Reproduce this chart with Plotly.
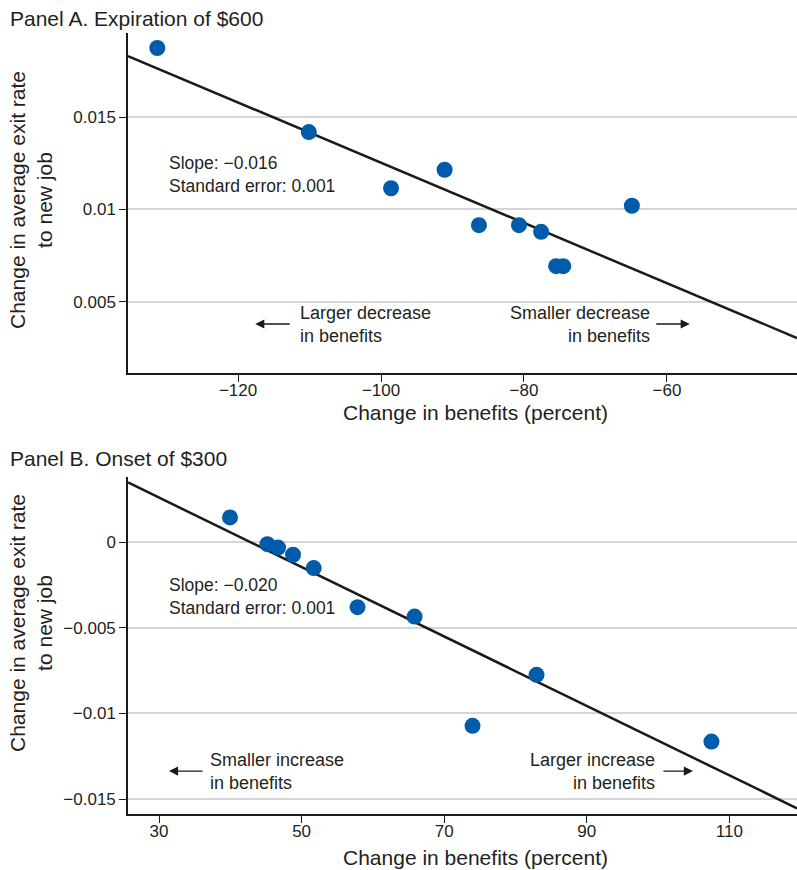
import plotly.graph_objects as go
from plotly.subplots import make_subplots
import numpy as np

# ---- Panel A data: Expiration of $600 ----
a_benefit_change = [-131.3, -110.1, -98.6, -91.1, -86.3, -80.7, -77.6, -75.5, -74.5, -64.9]
a_exit_change = [0.01874, 0.01419, 0.01115, 0.01215, 0.00915, 0.00915, 0.00879, 0.00693, 0.00693, 0.0102]
a_fit_intercept = -0.00377
a_fit_slope = -0.000163
a_xrange = [-135.4, -41.8]
a_yrange = [0.00115, 0.01955]
a_xticks = [-120, -100, -80, -60]
a_xticktext = ["\u2212120", "\u2212100", "\u221280", "\u221260"]
a_yticks = [0.005, 0.01, 0.015]
a_yticktext = ["0.005", "0.01", "0.015"]

# ---- Panel B data: Onset of $300 ----
b_benefit_change = [39.96, 45.2, 46.7, 48.8, 51.7, 57.85, 65.85, 82.96, 73.98, 107.5]
b_exit_change = [0.00144, -0.00012, -0.00032, -0.00074, -0.00152, -0.0038, -0.00435, -0.00775, -0.01073, -0.01165]
b_fit_intercept = 0.00868
b_fit_slope = -0.0002027
b_xrange = [25.65, 119.5]
b_yrange = [-0.015876, 0.0038]
b_xticks = [30, 50, 70, 90, 110]
b_xticktext = ["30", "50", "70", "90", "110"]
b_yticks = [-0.015, -0.01, -0.005, 0]
b_yticktext = ["\u22120.015", "\u22120.01", "\u22120.005", "0"]

FONT = "Liberation Sans, Arial, Helvetica, sans-serif"
TXT = "#231f20"
BLUE = "#005BAA"

W, H = 797, 870
L = 128
PW = W - L

fig = make_subplots(rows=2, cols=1)

def fit_line(xr, b0, b1):
    xs = np.array(xr)
    return xs, b0 + b1 * xs

for row, xs_, ys_, b0, b1, xr in [
    (1, a_benefit_change, a_exit_change, a_fit_intercept, a_fit_slope, a_xrange),
    (2, b_benefit_change, b_exit_change, b_fit_intercept, b_fit_slope, b_xrange),
]:
    lx, ly = fit_line(xr, b0, b1)
    fig.add_trace(go.Scatter(x=lx, y=ly, mode="lines",
                             line=dict(color="#1a1a1a", width=2.5),
                             showlegend=False, hoverinfo="skip", cliponaxis=False), row=row, col=1)
    fig.add_trace(go.Scatter(x=xs_, y=ys_, mode="markers",
                             marker=dict(color=BLUE, size=16),
                             showlegend=False, cliponaxis=False), row=row, col=1)

def px2paper_y(p):
    return 1 - p / H

def px2paper_x(p):
    return (p - L) / PW

axis_common = dict(showline=True, linecolor="#1a1a1a", linewidth=1.5,
                   ticks="outside", ticklen=7, tickwidth=1.2, tickcolor="#1a1a1a",
                   tickfont=dict(family=FONT, size=17, color=TXT), zeroline=False,
                   automargin=False)

fig.update_xaxes(range=a_xrange, tickvals=a_xticks, ticktext=a_xticktext,
                 showgrid=False, domain=[0, 1], ticklabelstandoff=-6,
                 row=1, col=1, **axis_common)
fig.update_yaxes(range=a_yrange, tickvals=a_yticks, ticktext=a_yticktext,
                 showgrid=True, gridcolor="#d6d6d6", gridwidth=1.5,
                 domain=[px2paper_y(373), px2paper_y(33)], row=1, col=1, **axis_common)
fig.update_xaxes(range=b_xrange, tickvals=b_xticks, ticktext=b_xticktext,
                 showgrid=False, domain=[0, 1], ticklabelstandoff=-6,
                 row=2, col=1, **axis_common)
fig.update_yaxes(range=b_yrange, tickvals=b_yticks, ticktext=b_yticktext,
                 showgrid=True, gridcolor="#d6d6d6", gridwidth=1.5,
                 domain=[px2paper_y(814), px2paper_y(477)], row=2, col=1, **axis_common)

ann = []
tfont = dict(family=FONT, size=21, color=TXT)
afont = dict(family=FONT, size=17.5, color=TXT)
dfont = dict(family=FONT, size=18, color=TXT)

# panel titles
ann.append(dict(text="Panel A. Expiration of $600", xref="paper", yref="paper",
                x=px2paper_x(8), y=px2paper_y(18), xanchor="left", yanchor="middle",
                showarrow=False, font=tfont))
ann.append(dict(text="Panel B. Onset of $300", xref="paper", yref="paper",
                x=px2paper_x(8), y=px2paper_y(458), xanchor="left", yanchor="middle",
                showarrow=False, font=tfont))
# x axis titles
for yp in (412, 857):
    ann.append(dict(text="Change in benefits (percent)", xref="paper", yref="paper",
                    x=px2paper_x(476), y=px2paper_y(yp), xanchor="center", yanchor="middle",
                    showarrow=False, font=tfont))
# y axis titles
for yp in (200, 623):
    ann.append(dict(text="Change in average exit rate<br>to new job", xref="paper", yref="paper",
                    x=px2paper_x(31), y=px2paper_y(yp), xanchor="center", yanchor="middle",
                    textangle=-90, showarrow=False, font=tfont))

# slope annotations
ann.append(dict(text="Slope: \u22120.016<br>Standard error: 0.001", xref="x", yref="y",
                x=-129.9, y=0.01191, xanchor="left", yanchor="middle", align="left",
                showarrow=False, font=afont))
ann.append(dict(text="Slope: \u22120.020<br>Standard error: 0.001", xref="x2", yref="y2",
                x=31.1, y=-0.0032, xanchor="left", yanchor="middle", align="left",
                showarrow=False, font=afont))

# direction labels panel A
ann.append(dict(text="Larger decrease<br>in benefits", xref="x", yref="y",
                x=-111.6, y=0.0038, xanchor="left", yanchor="middle", align="left",
                showarrow=False, font=dfont))
ann.append(dict(text="Smaller decrease<br>in benefits", xref="x", yref="y",
                x=-62.1, y=0.0038, xanchor="right", yanchor="middle", align="right",
                showarrow=False, font=dfont))
arrow_style = dict(showarrow=True, arrowhead=2, arrowsize=1.3, arrowwidth=1.4,
                   arrowcolor="#1a1a1a", text="")
ann.append(dict(xref="x", yref="y", x=-117.6, y=0.0038, ax=36, ay=0, **arrow_style))
ann.append(dict(xref="x", yref="y", x=-56.8, y=0.0038, ax=-35, ay=0, **arrow_style))

# direction labels panel B
ann.append(dict(text="Smaller increase<br>in benefits", xref="x2", yref="y2",
                x=36.9, y=-0.01337, xanchor="left", yanchor="middle", align="left",
                showarrow=False, font=dfont))
ann.append(dict(text="Larger increase<br>in benefits", xref="x2", yref="y2",
                x=99.9, y=-0.01337, xanchor="right", yanchor="middle", align="right",
                showarrow=False, font=dfont))
ann.append(dict(xref="x2", yref="y2", x=31.4, y=-0.01337, ax=35, ay=0, **arrow_style))
ann.append(dict(xref="x2", yref="y2", x=104.9, y=-0.01337, ax=-31, ay=0, **arrow_style))

fig.update_layout(width=W, height=H, margin=dict(l=L, r=0, t=0, b=0, pad=0),
                  paper_bgcolor="white", plot_bgcolor="white",
                  font=dict(family=FONT, color=TXT), annotations=ann,
                  showlegend=False)

fig.write_html("out.html", config={"displayModeBar": False},
               post_script="document.body.style.margin='0px';document.body.style.overflow='hidden';")
